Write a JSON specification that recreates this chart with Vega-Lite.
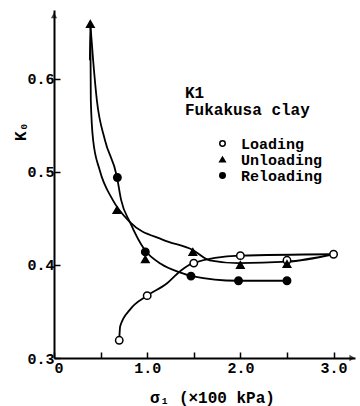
{
  "$schema": "https://vega.github.io/schema/vega-lite/v6.json",
  "width": 301,
  "height": 348,
  "autosize": "none",
  "padding": {"left": 54, "top": 10, "right": 5, "bottom": 48},
  "config": {
    "view": {"stroke": null},
    "font": "Liberation Mono",
    "axis": {
      "domainColor": "black", "domainWidth": 2, "tickColor": "black", "tickWidth": 1.5, "grid": false
    }
  },
  "datasets": {
    "curves": [
      {"series": "Unloading", "x": 0.39, "y": 0.659},
      {"series": "Unloading", "x": 0.385, "y": 0.62},
      {"series": "Unloading", "x": 0.395, "y": 0.577},
      {"series": "Unloading", "x": 0.42, "y": 0.534},
      {"series": "Unloading", "x": 0.49, "y": 0.502},
      {"series": "Unloading", "x": 0.63, "y": 0.470},
      {"series": "Unloading", "x": 0.815, "y": 0.446},
      {"series": "Unloading", "x": 1.17, "y": 0.427},
      {"series": "Unloading", "x": 1.49, "y": 0.416},
      {"series": "Unloading", "x": 1.67, "y": 0.405},
      {"series": "Unloading", "x": 1.98, "y": 0.402},
      {"series": "Unloading", "x": 2.5, "y": 0.4035},
      {"series": "Unloading", "x": 3.0, "y": 0.4115},
      {"series": "Reloading", "x": 0.39, "y": 0.659},
      {"series": "Reloading", "x": 0.42, "y": 0.62},
      {"series": "Reloading", "x": 0.46, "y": 0.577},
      {"series": "Reloading", "x": 0.547, "y": 0.534},
      {"series": "Reloading", "x": 0.675, "y": 0.495},
      {"series": "Reloading", "x": 0.72, "y": 0.47},
      {"series": "Reloading", "x": 0.815, "y": 0.446},
      {"series": "Reloading", "x": 0.975, "y": 0.416},
      {"series": "Reloading", "x": 1.15, "y": 0.401},
      {"series": "Reloading", "x": 1.35, "y": 0.392},
      {"series": "Reloading", "x": 1.48, "y": 0.388},
      {"series": "Reloading", "x": 1.97, "y": 0.383},
      {"series": "Reloading", "x": 2.5, "y": 0.383},
      {"series": "Loading", "x": 0.70, "y": 0.319},
      {"series": "Loading", "x": 0.71, "y": 0.334},
      {"series": "Loading", "x": 0.815, "y": 0.352},
      {"series": "Loading", "x": 1.0, "y": 0.367},
      {"series": "Loading", "x": 1.21, "y": 0.380},
      {"series": "Loading", "x": 1.35, "y": 0.393},
      {"series": "Loading", "x": 1.49, "y": 0.402},
      {"series": "Loading", "x": 1.99, "y": 0.410},
      {"series": "Loading", "x": 3.0, "y": 0.4115}
    ],
    "points": [
      {"series": "Loading", "x": 0.70, "y": 0.319},
      {"series": "Loading", "x": 1.0, "y": 0.367},
      {"series": "Loading", "x": 1.5, "y": 0.402},
      {"series": "Loading", "x": 2.0, "y": 0.410},
      {"series": "Loading", "x": 2.5, "y": 0.405},
      {"series": "Loading", "x": 3.0, "y": 0.4115},
      {"series": "Unloading", "x": 0.39, "y": 0.659},
      {"series": "Unloading", "x": 0.675, "y": 0.459},
      {"series": "Unloading", "x": 0.98, "y": 0.406},
      {"series": "Unloading", "x": 1.49, "y": 0.414},
      {"series": "Unloading", "x": 2.0, "y": 0.400},
      {"series": "Unloading", "x": 2.5, "y": 0.401},
      {"series": "Reloading", "x": 0.68, "y": 0.494},
      {"series": "Reloading", "x": 0.98, "y": 0.414},
      {"series": "Reloading", "x": 1.47, "y": 0.388},
      {"series": "Reloading", "x": 1.98, "y": 0.383},
      {"series": "Reloading", "x": 2.5, "y": 0.383}
    ]
  },
  "layer": [
    {
      "data": {"name": "curves"},
      "mark": {"type": "line", "interpolate": "monotone", "color": "black", "strokeWidth": 1.8},
      "encoding": {
        "x": {"field": "x", "type": "quantitative",
          "scale": {"domain": [0, 3.23], "nice": false, "zero": false},
          "axis": {
            "title": "σ₁ (×100 kPa)",
            "values": [0, 0.5, 1, 1.5, 2, 2.5, 3],
            "labelExpr": "datum.value === 0 ? '0' : (datum.value % 1 === 0 ? format(datum.value, '.1f') : '')",
            "labelFont": "Liberation Mono", "labelFontWeight": "bold", "labelFontSize": 15, "labelColor": "black",
            "titleFont": "Liberation Mono", "titleFontWeight": "bold", "titleFontSize": 16, "titleColor": "black",
            "tickSize": -6, "labelPadding": 8,
            "titleX": 158, "titleY": 39, "titleBaseline": "middle"
          }
        },
        "y": {"field": "y", "type": "quantitative",
          "scale": {"domain": [0.3, 0.674], "nice": false, "zero": false},
          "axis": {
            "title": "K₀",
            "values": [0.3, 0.4, 0.5, 0.6],
            "format": ".1f",
            "labelFont": "Liberation Mono", "labelFontWeight": "bold", "labelFontSize": 15, "labelColor": "black",
            "titleFont": "Liberation Mono", "titleFontWeight": "bold", "titleFontSize": 16, "titleColor": "black",
            "tickSize": -6, "labelPadding": 6,
            "titleX": -34, "titleY": 121, "titleAngle": -90, "titleAlign": "center", "titleBaseline": "middle"
          }
        },
        "detail": {"field": "series"}
      }
    },
    {
      "data": {"name": "points"},
      "mark": {"type": "point", "filled": true, "strokeWidth": 1.5, "opacity": 1},
      "encoding": {
        "x": {"field": "x", "type": "quantitative"},
        "y": {"field": "y", "type": "quantitative"},
        "shape": {"field": "series", "type": "nominal",
          "scale": {"domain": ["Loading", "Unloading", "Reloading"], "range": ["circle", "triangle-up", "circle"]},
          "legend": {
            "title": ["K1", "Fukakusa clay"],
            "orient": "none", "legendX": 131, "legendY": 75, "padding": 0,
            "titleFont": "Liberation Mono", "titleFontWeight": "bold", "titleFontSize": 16, "titleColor": "black", "titleLineHeight": 17, "titlePadding": 18,
            "labelFont": "Liberation Mono", "labelFontWeight": "bold", "labelFontSize": 15, "labelColor": "black", "labelOffset": 11,
            "symbolOffset": 30, "symbolSize": 30, "symbolStrokeWidth": 1.5, "rowPadding": -1
          }
        },
        "fill": {"field": "series", "type": "nominal",
          "scale": {"domain": ["Loading", "Unloading", "Reloading"], "range": ["white", "black", "black"]}
        },
        "stroke": {"field": "series", "type": "nominal",
          "scale": {"domain": ["Loading", "Unloading", "Reloading"], "range": ["black", "black", "black"]}
        },
        "size": {"value": 55}
      }
    },
    {
      "data": {"values": [{"x": 3.2, "y": 0.3}]},
      "mark": {"type": "point", "shape": "triangle-right", "filled": true, "color": "black", "size": 40},
      "encoding": {"x": {"field": "x", "type": "quantitative"}, "y": {"field": "y", "type": "quantitative"}}
    },
    {
      "data": {"values": [{"x": 0, "y": 0.668}]},
      "mark": {"type": "point", "shape": "triangle-up", "filled": true, "color": "black", "size": 40},
      "encoding": {"x": {"field": "x", "type": "quantitative"}, "y": {"field": "y", "type": "quantitative"}}
    }
  ]
}
